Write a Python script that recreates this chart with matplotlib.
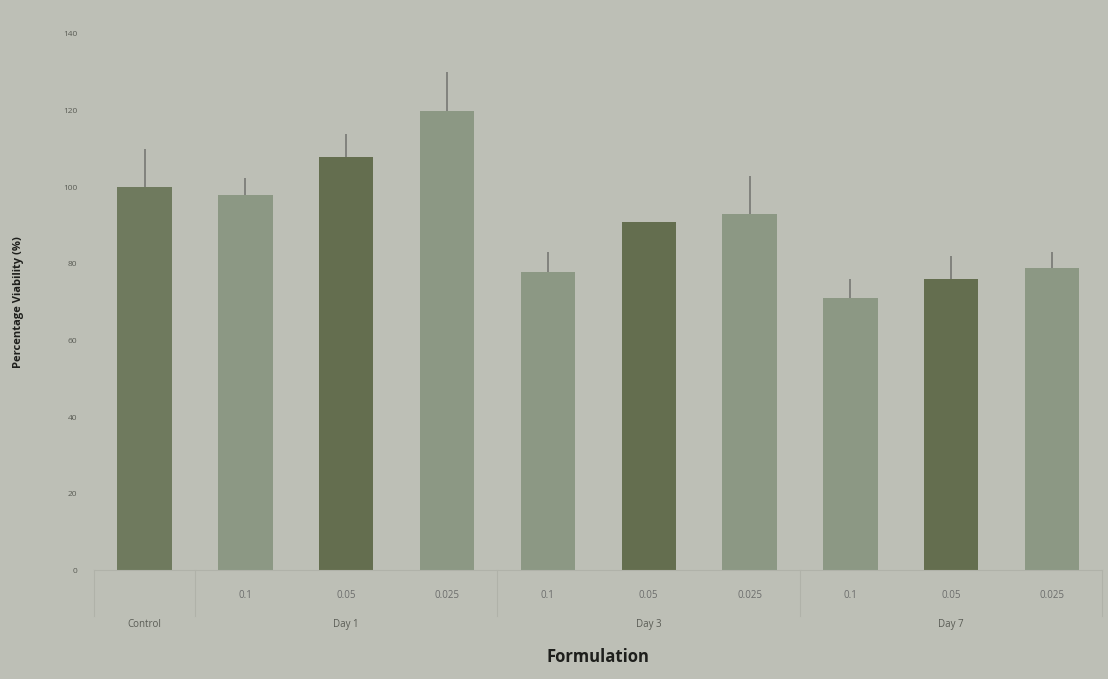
import numpy as np
import matplotlib.pyplot as plt

# Viability per formulation (mean and error)
dosis = ["", "0.1", "0.05", "0.025", "0.1", "0.05", "0.025", "0.1", "0.05", "0.025"]
grupos = ["Control", "Day 1", "Day 3", "Day 7"]
centro_grupos = [0, 2, 5, 8]
viabilidad = [100, 98, 108, 120, 78, 91, 93, 71, 76, 79]
error = [10, 4.5, 6, 10, 5, 0, 10, 5, 6, 4]

fondo = "#bdbfb6"
oscuro = "#646e4f"
medio = "#6f7a5e"
claro = "#8c9884"
colores = [medio, claro, oscuro, claro, claro, oscuro, claro, claro, oscuro, claro]

plt.rcParams['font.family'] = ['Open Sans', 'DejaVu Sans']

fig = plt.figure(figsize=(11.08, 6.79), dpi=100, facecolor=fondo)
ax = fig.add_axes([0.085, 0.16, 0.91, 0.79], facecolor=fondo)

x = np.arange(len(viabilidad))
ax.bar(x, viabilidad, width=0.54, color=colores, zorder=2)
ax.errorbar(x, viabilidad, yerr=[np.zeros(len(error)), error], fmt="none",
            ecolor="#7c7d78", elinewidth=1.3, capsize=0, zorder=1)

ax.set_xlim(-0.5, 9.5)
ax.set_ylim(0, 140)
ax.set_yticks(range(0, 141, 20))
ax.tick_params(axis="y", labelsize=6, colors="#5a5c55", length=0, pad=12)
ax.set_xticks(x)
ax.set_xticklabels(dosis, fontsize=7, color="#6c6d6c")
ax.tick_params(axis="x", length=0, pad=14)

for lado in ["top", "right", "left"]:
    ax.spines[lado].set_visible(False)
ax.spines["bottom"].set_color("#b0b2a9")

# Separadores entre grupos de la categoria
for sep in [-0.5, 0.5, 3.5, 6.5, 9.5]:
    ax.plot([sep, sep], [0, -12], color="#b0b2a9", lw=0.8, clip_on=False)

for nombre, pos in zip(grupos, centro_grupos):
    ax.text(pos, -14, nombre, ha="center", va="center", fontsize=7, color="#5a5c55")

ax.set_ylabel("Percentage Viability (%)", fontsize=8, fontweight="bold",
              color="#1e1f1c", labelpad=28)
ax.set_xlabel("Formulation", fontsize=12, fontweight="bold", color="#1e1f1c",
              labelpad=34)

fig.savefig("out.png", dpi=100, facecolor=fondo)
